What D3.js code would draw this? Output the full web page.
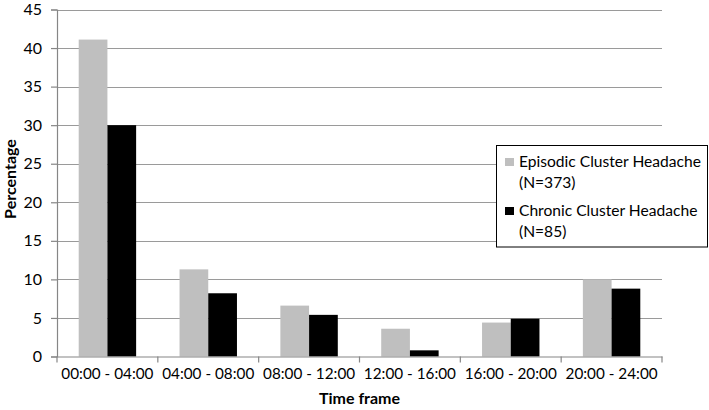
<!DOCTYPE html>
<html>
<head>
<meta charset="utf-8">
<script src="https://cdn.jsdelivr.net/npm/d3@7/dist/d3.min.js"></script>
<style>
  html, body { margin: 0; padding: 0; background: #fff; }
  svg { display: block; }
  text { font-family: Lato, "Open Sans", sans-serif; fill: #000; }
</style>
</head>
<body>
<svg id="chart" width="709" height="410"></svg>
<script>
const categories = ["00:00 - 04:00", "04:00 - 08:00", "08:00 - 12:00", "12:00 - 16:00", "16:00 - 20:00", "20:00 - 24:00"];
const seriesNames = ["Episodic Cluster Headache", "Chronic Cluster Headache"];
const seriesSub = ["(N=373)", "(N=85)"];
const episodic = [41.1, 11.3, 6.6, 3.6, 4.4, 10.0];
const chronic = [30.0, 8.2, 5.4, 0.8, 4.9, 8.8];
const yTicks = [0, 5, 10, 15, 20, 25, 30, 35, 40, 45];
const colors = ["#bfbfbf", "#000000"];

const svg = d3.select("#chart");
const m = { left: 57, right: 709 - 662, top: 9.5, bottom: 410 - 356.5 };
const W = 709, H = 410;

const x = d3.scaleBand().domain(categories).range([m.left, W - m.right]).paddingInner(0).paddingOuter(0);
const x1 = d3.scaleBand().domain([0, 1]).range([0, x.bandwidth()]).paddingInner(0).paddingOuter(0.756);
const y = d3.scaleLinear().domain([0, 45]).range([H - m.bottom, m.top]);

// gridlines
svg.append("g")
  .selectAll("line").data(yTicks.filter(d => d > 0)).join("line")
  .attr("x1", m.left).attr("x2", W - m.right)
  .attr("y1", d => Math.round(y(d)) + 0.5).attr("y2", d => Math.round(y(d)) + 0.5)
  .attr("stroke", "#9a9a9a").attr("stroke-width", 1.2);

// bars
const data = categories.map((c, i) => ({ c, vals: [episodic[i], chronic[i]] }));
const g = svg.append("g").selectAll("g").data(data).join("g")
  .attr("transform", d => `translate(${x(d.c)},0)`);
g.selectAll("rect").data(d => d.vals.map((v, k) => ({ v, k }))).join("rect")
  .attr("x", d => x1(d.k)).attr("width", x1.bandwidth())
  .attr("y", d => y(d.v)).attr("height", d => y(0) - y(d.v))
  .attr("fill", d => colors[d.k]);

// y axis
const yAxis = d3.axisLeft(y).tickValues(yTicks).tickSize(6).tickPadding(9).tickFormat(d3.format("d"));
const ya = svg.append("g").attr("transform", `translate(${m.left},0)`).call(yAxis);
ya.select(".domain").attr("stroke", "#868686").attr("stroke-width", 1.2);
ya.selectAll(".tick line").attr("stroke", "#868686").attr("stroke-width", 1.2);
ya.selectAll(".tick text").attr("font-size", 16).attr("font-family", "Lato, sans-serif").attr("fill", "#000");

// x axis
const xAxis = d3.axisBottom(x).tickSize(0).tickPadding(12);
const xa = svg.append("g").attr("transform", `translate(0,${y(0)})`).call(xAxis);
xa.select(".domain").attr("stroke", "#868686").attr("stroke-width", 1.2);
xa.selectAll(".tick text").attr("font-size", 15.3).attr("font-family", "Lato, sans-serif").attr("fill", "#000");
// category boundary ticks
svg.append("g").selectAll("line").data(categories.map((c, i) => i).concat([categories.length]))
  .join("line")
  .attr("x1", i => m.left + i * x.step()).attr("x2", i => m.left + i * x.step())
  .attr("y1", y(0)).attr("y2", y(0) + 6)
  .attr("stroke", "#868686").attr("stroke-width", 1.2);

// axis titles
svg.append("text").attr("x", (m.left + W - m.right) / 2).attr("y", 404)
  .attr("text-anchor", "middle").attr("font-weight", "bold").attr("font-size", 16).text("Time frame");
svg.append("text").attr("transform", `translate(16,179) rotate(-90)`)
  .attr("text-anchor", "middle").attr("font-weight", "bold").attr("font-size", 16).text("Percentage");

// legend
const lg = svg.append("g");
lg.append("rect").attr("x", 496.5).attr("y", 145.5).attr("width", 211).attr("height", 101.5)
  .attr("fill", "#fff").attr("stroke", "#000").attr("stroke-width", 1);
const rows = [0, 1];
const lrow = lg.selectAll("g").data(rows).join("g")
  .attr("transform", k => `translate(0,${k * 49})`);
lrow.append("rect").attr("x", 505).attr("y", 158).attr("width", 9).attr("height", 8)
  .attr("fill", k => colors[k]);
lrow.append("text").attr("x", 519).attr("y", 167).attr("font-size", 15.6).text(k => seriesNames[k]);
lrow.append("text").attr("x", 519).attr("y", 188).attr("font-size", 15.6).text(k => seriesSub[k]);
</script>
</body>
</html>
